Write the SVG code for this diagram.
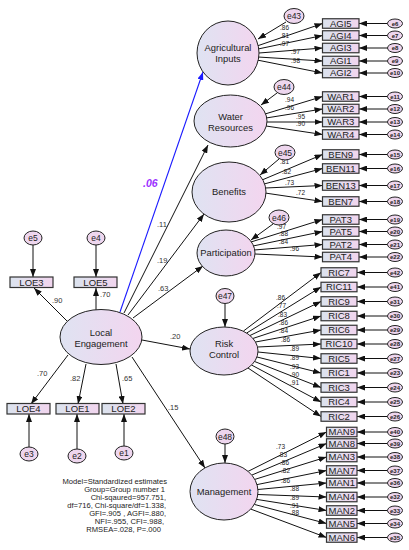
<svg xmlns="http://www.w3.org/2000/svg" width="409" height="550" viewBox="0 0 409 550">
<defs>
<linearGradient id="gl" x1="0" y1="0" x2="1" y2="0"><stop offset="0" stop-color="#dfe3f2"/><stop offset="1" stop-color="#f3d5ef"/></linearGradient>
<linearGradient id="gb" x1="0" y1="0" x2="1" y2="0"><stop offset="0" stop-color="#dbe3ee"/><stop offset="1" stop-color="#f1d5ee"/></linearGradient>
<marker id="ah" viewBox="0 0 10 10" refX="10" refY="5" markerWidth="8" markerHeight="6" markerUnits="userSpaceOnUse" orient="auto" preserveAspectRatio="none"><path d="M0,0 L10,5 L0,10 z" fill="#111"/></marker>
<marker id="ahb" viewBox="0 0 10 10" refX="10" refY="5" markerWidth="8" markerHeight="6" markerUnits="userSpaceOnUse" orient="auto" preserveAspectRatio="none"><path d="M0,0 L10,5 L0,10 z" fill="#1a1aff"/></marker>
<style>
text{font-family:"Liberation Sans",Arial,sans-serif;fill:#222}
.lat{fill:url(#gl);stroke:#222;stroke-width:1}
.box{fill:url(#gb);stroke:#333;stroke-width:1.2}
.err{fill:#eed6ee;stroke:#222;stroke-width:1}
.ln{stroke:#111;stroke-width:1;fill:none;marker-end:url(#ah)}
.blue{stroke:#1a1aff;stroke-width:1.1;fill:none;marker-end:url(#ahb)}
.lt{font-size:9.4px;text-anchor:middle}
.bt{font-size:9.5px;text-anchor:middle}
.et{font-size:8.5px;text-anchor:middle}
.se{font-size:6px;text-anchor:middle;font-weight:bold}
.ld{font-size:6.5px;fill:#444}
.sl{font-size:7.5px;fill:#333}
.fit{font-size:7.6px;text-anchor:end}
</style>
</defs>
<rect width="409" height="550" fill="#fff"/>

<g id="connectors">
<line class="blue" x1="120" y1="312" x2="203" y2="72"/>
<line class="ln" x1="124" y1="313" x2="208" y2="145"/>
<line class="ln" x1="128" y1="315" x2="204" y2="214"/>
<line class="ln" x1="133" y1="318" x2="203" y2="266"/>
<line class="ln" x1="142" y1="340" x2="190" y2="349"/>
<line class="ln" x1="132" y1="357" x2="205" y2="468"/>
<line class="ln" x1="67" y1="321" x2="34" y2="288"/>
<line class="ln" x1="96" y1="310" x2="96" y2="288"/>
<line class="ln" x1="68" y1="355" x2="31" y2="404"/>
<line class="ln" x1="86" y1="364" x2="78" y2="404"/>
<line class="ln" x1="116" y1="364" x2="123" y2="404"/>
<line class="ln" x1="33" y1="245" x2="33" y2="277"/>
<line class="ln" x1="96" y1="245" x2="96" y2="277"/>
<line class="ln" x1="29" y1="447" x2="29" y2="414"/>
<line class="ln" x1="77" y1="449" x2="77" y2="414"/>
<line class="ln" x1="124" y1="446" x2="124" y2="414"/>
<line class="ln" x1="286" y1="22" x2="258" y2="39"/>
<line class="ln" x1="277" y1="93" x2="261" y2="105"/>
<line class="ln" x1="279" y1="159" x2="260" y2="175"/>
<line class="ln" x1="273" y1="224" x2="251" y2="240"/>
<line class="ln" x1="225" y1="303" x2="225" y2="327"/>
<line class="ln" x1="225" y1="444" x2="225" y2="463"/>
<line class="ln" x1="257" y1="46" x2="322.5" y2="23.5"/>
<line class="ln" x1="258" y1="49" x2="322.5" y2="35.5"/>
<line class="ln" x1="259" y1="53" x2="322.5" y2="48"/>
<line class="ln" x1="258" y1="57" x2="322.5" y2="61"/>
<line class="ln" x1="257" y1="60" x2="322.5" y2="73"/>
<line class="ln" x1="265" y1="114" x2="322.5" y2="96.5"/>
<line class="ln" x1="266" y1="118" x2="322.5" y2="109"/>
<line class="ln" x1="267" y1="122" x2="322.5" y2="122"/>
<line class="ln" x1="266" y1="126" x2="322.5" y2="134.5"/>
<line class="ln" x1="262" y1="180" x2="322.5" y2="154.5"/>
<line class="ln" x1="264" y1="184" x2="322.5" y2="168.5"/>
<line class="ln" x1="265" y1="188" x2="322.5" y2="185.5"/>
<line class="ln" x1="265" y1="193" x2="322.5" y2="201.5"/>
<line class="ln" x1="251" y1="242" x2="322.5" y2="219.5"/>
<line class="ln" x1="253" y1="246" x2="322.5" y2="231.5"/>
<line class="ln" x1="254" y1="250" x2="322.5" y2="244.5"/>
<line class="ln" x1="255" y1="254" x2="322.5" y2="257"/>
<line class="ln" x1="243.5" y1="331" x2="321" y2="272.5"/>
<line class="ln" x1="246.7" y1="333" x2="321" y2="287"/>
<line class="ln" x1="250" y1="335.5" x2="321" y2="301.5"/>
<line class="ln" x1="252.8" y1="338.5" x2="321" y2="316"/>
<line class="ln" x1="255.5" y1="342" x2="321" y2="330"/>
<line class="ln" x1="257.5" y1="347" x2="321" y2="344"/>
<line class="ln" x1="258" y1="352" x2="321" y2="358.5"/>
<line class="ln" x1="257" y1="357" x2="321" y2="373"/>
<line class="ln" x1="254.6" y1="361.5" x2="321" y2="387.5"/>
<line class="ln" x1="251.5" y1="365" x2="321" y2="402"/>
<line class="ln" x1="248" y1="368" x2="321" y2="416.5"/>
<line class="ln" x1="248" y1="471.4" x2="326.5" y2="432"/>
<line class="ln" x1="251.8" y1="475.1" x2="326.5" y2="443.5"/>
<line class="ln" x1="254.8" y1="479.4" x2="326.5" y2="457"/>
<line class="ln" x1="257" y1="484.6" x2="326.5" y2="470.5"/>
<line class="ln" x1="257.9" y1="489.5" x2="326.5" y2="483"/>
<line class="ln" x1="257.8" y1="494.5" x2="326.5" y2="497"/>
<line class="ln" x1="256.7" y1="499.4" x2="326.5" y2="510.5"/>
<line class="ln" x1="254.3" y1="504.4" x2="326.5" y2="523.5"/>
<line class="ln" x1="250.8" y1="509.1" x2="326.5" y2="537.5"/>
<g>
<line class="ln" x1="387.5" y1="23.5" x2="359" y2="23.5"/>
<line class="ln" x1="387.5" y1="35.5" x2="359" y2="35.5"/>
<line class="ln" x1="387.5" y1="48" x2="359" y2="48"/>
<line class="ln" x1="387.5" y1="61" x2="359" y2="61"/>
<line class="ln" x1="387.5" y1="73" x2="359" y2="73"/>
<line class="ln" x1="387.5" y1="96.5" x2="359" y2="96.5"/>
<line class="ln" x1="387.5" y1="109" x2="359" y2="109"/>
<line class="ln" x1="387.5" y1="122" x2="359" y2="122"/>
<line class="ln" x1="387.5" y1="134.5" x2="359" y2="134.5"/>
<line class="ln" x1="387.5" y1="154.5" x2="359" y2="154.5"/>
<line class="ln" x1="387.5" y1="168.5" x2="359" y2="168.5"/>
<line class="ln" x1="387.5" y1="185.5" x2="359" y2="185.5"/>
<line class="ln" x1="387.5" y1="201.5" x2="359" y2="201.5"/>
<line class="ln" x1="387.5" y1="219.5" x2="359" y2="219.5"/>
<line class="ln" x1="387.5" y1="231.5" x2="359" y2="231.5"/>
<line class="ln" x1="387.5" y1="244.5" x2="359" y2="244.5"/>
<line class="ln" x1="387.5" y1="257" x2="359" y2="257"/>
<line class="ln" x1="387.5" y1="272.5" x2="357" y2="272.5"/>
<line class="ln" x1="387.5" y1="287" x2="357" y2="287"/>
<line class="ln" x1="387.5" y1="301.5" x2="357" y2="301.5"/>
<line class="ln" x1="387.5" y1="316" x2="357" y2="316"/>
<line class="ln" x1="387.5" y1="330" x2="357" y2="330"/>
<line class="ln" x1="387.5" y1="344" x2="357" y2="344"/>
<line class="ln" x1="387.5" y1="358.5" x2="357" y2="358.5"/>
<line class="ln" x1="387.5" y1="373" x2="357" y2="373"/>
<line class="ln" x1="387.5" y1="387.5" x2="357" y2="387.5"/>
<line class="ln" x1="387.5" y1="402" x2="357" y2="402"/>
<line class="ln" x1="387.5" y1="416.5" x2="357" y2="416.5"/>
<line class="ln" x1="387.5" y1="432" x2="357" y2="432"/>
<line class="ln" x1="387.5" y1="443.5" x2="357" y2="443.5"/>
<line class="ln" x1="387.5" y1="457" x2="357" y2="457"/>
<line class="ln" x1="387.5" y1="470.5" x2="357" y2="470.5"/>
<line class="ln" x1="387.5" y1="483" x2="357" y2="483"/>
<line class="ln" x1="387.5" y1="497" x2="357" y2="497"/>
<line class="ln" x1="387.5" y1="510.5" x2="357" y2="510.5"/>
<line class="ln" x1="387.5" y1="523.5" x2="357" y2="523.5"/>
<line class="ln" x1="387.5" y1="537.5" x2="357" y2="537.5"/>
</g>
<text x="143" y="187" style="font-size:10.5px;font-weight:bold;font-style:italic;fill:#9b30ff">.06</text>
<text class="sl" x="157" y="227">.11</text>
<text class="sl" x="157" y="263">.19</text>
<text class="sl" x="158" y="291">.63</text>
<text class="sl" x="170" y="339">.20</text>
<text class="sl" x="168" y="410">.15</text>
<text class="sl" x="52" y="303">.90</text>
<text class="sl" x="100" y="297">.70</text>
<text class="sl" x="37" y="376">.70</text>
<text class="sl" x="70" y="381">.82</text>
<text class="sl" x="122" y="381">.65</text>
<g class="ld">
<text x="280" y="30">.86</text><text x="280" y="38">.81</text><text x="280" y="46">.97</text><text x="291" y="54">.97</text><text x="291" y="63">.98</text>
<text x="285" y="102">.94</text><text x="285" y="110">.96</text><text x="296" y="118.5">.95</text><text x="296" y="126">.90</text>
<text x="280" y="164">.81</text><text x="282" y="174">.82</text><text x="285" y="185">.73</text><text x="296" y="195">.72</text>
<text x="277" y="229">.97</text><text x="279" y="236">.88</text><text x="279" y="244">.84</text><text x="290" y="251">.96</text>
<text x="276" y="300">.86</text><text x="277" y="307.5">.77</text><text x="278" y="316.5">.83</text><text x="279" y="325">.86</text><text x="279" y="333">.84</text><text x="281" y="342">.86</text><text x="290" y="351">.89</text><text x="290" y="360">.89</text><text x="290" y="369">.93</text><text x="290" y="377">.90</text><text x="290" y="385">.91</text>
<text x="276" y="449">.73</text><text x="278" y="456.5">.83</text><text x="280" y="465">.86</text><text x="281" y="473">.82</text><text x="281" y="482.5">.86</text><text x="290" y="491">.88</text><text x="290" y="500">.89</text><text x="290" y="507.5">.91</text><text x="290" y="515">.88</text>
</g>
</g>

<g id="LocalEngagement"><ellipse class="lat" cx="101" cy="337" rx="41" ry="27.5"/><text class="lt" x="101" y="336">Local</text><text class="lt" x="101" y="347">Engagement</text></g>
<g id="AgriculturalInputs"><ellipse class="lat" cx="228" cy="53" rx="31" ry="32"/><text class="lt" x="228" y="51">Agricultural</text><text class="lt" x="228" y="62">Inputs</text></g>
<g id="WaterResources"><ellipse class="lat" cx="230.5" cy="121" rx="36.5" ry="26"/><text class="lt" x="230.5" y="120">Water</text><text class="lt" x="230.5" y="131">Resources</text></g>
<g id="Benefits"><ellipse class="lat" cx="229" cy="192" rx="37" ry="30"/><text class="lt" x="229" y="195">Benefits</text></g>
<g id="Participation"><ellipse class="lat" cx="226" cy="253" rx="29" ry="23"/><text class="lt" x="226" y="256">Participation</text></g>
<g id="RiskControl"><ellipse class="lat" cx="224" cy="351" rx="34" ry="24"/><text class="lt" x="224" y="347">Risk</text><text class="lt" x="224" y="358">Control</text></g>
<g id="Management"><ellipse class="lat" cx="224" cy="491.5" rx="34" ry="28.5"/><text class="lt" x="224" y="494.5">Management</text></g>

<g id="e43"><ellipse class="err" cx="294" cy="16" rx="10" ry="7.5"/><text class="et" x="294" y="19">e43</text></g>
<g id="e44"><ellipse class="err" cx="284" cy="87" rx="10" ry="7.5"/><text class="et" x="284" y="90">e44</text></g>
<g id="e45"><ellipse class="err" cx="285" cy="152.5" rx="10" ry="7.5"/><text class="et" x="285" y="155.5">e45</text></g>
<g id="e46"><ellipse class="err" cx="279" cy="217.5" rx="10" ry="7.5"/><text class="et" x="279" y="220.5">e46</text></g>
<g id="e47"><ellipse class="err" cx="225" cy="296" rx="9" ry="7.5"/><text class="et" x="225" y="299">e47</text></g>
<g id="e48"><ellipse class="err" cx="225" cy="436.5" rx="9" ry="7.5"/><text class="et" x="225" y="439.5">e48</text></g>

<g id="LOE3"><rect class="box" x="10" y="277" width="43" height="10.5"/><text class="bt" x="31.5" y="285.7">LOE3</text></g>
<g id="LOE5"><rect class="box" x="74" y="277" width="43" height="10.5"/><text class="bt" x="95.5" y="285.7">LOE5</text></g>
<g id="LOE4"><rect class="box" x="7" y="403.5" width="43" height="10.5"/><text class="bt" x="28.5" y="412.2">LOE4</text></g>
<g id="LOE1"><rect class="box" x="56" y="403.5" width="43" height="10.5"/><text class="bt" x="77.5" y="412.2">LOE1</text></g>
<g id="LOE2"><rect class="box" x="102" y="403.5" width="43" height="10.5"/><text class="bt" x="123.5" y="412.2">LOE2</text></g>
<g id="e5"><ellipse class="err" cx="33" cy="238" rx="9" ry="7"/><text class="et" x="33" y="241">e5</text></g>
<g id="e4"><ellipse class="err" cx="96" cy="238" rx="9" ry="7"/><text class="et" x="96" y="241">e4</text></g>
<g id="e3"><ellipse class="err" cx="29" cy="454" rx="9" ry="7"/><text class="et" x="29" y="457">e3</text></g>
<g id="e2"><ellipse class="err" cx="77" cy="456" rx="9" ry="7"/><text class="et" x="77" y="459">e2</text></g>
<g id="e1"><ellipse class="err" cx="124" cy="453" rx="9" ry="7"/><text class="et" x="124" y="456">e1</text></g>

<g id="AGI5"><rect class="box" x="322.5" y="18.75" width="36.5" height="9.5"/><text class="bt" x="340.75" y="26.9">AGI5</text></g>
<g id="AGI4"><rect class="box" x="322.5" y="30.75" width="36.5" height="9.5"/><text class="bt" x="340.75" y="38.9">AGI4</text></g>
<g id="AGI3"><rect class="box" x="322.5" y="43.25" width="36.5" height="9.5"/><text class="bt" x="340.75" y="51.4">AGI3</text></g>
<g id="AGI1"><rect class="box" x="322.5" y="56.25" width="36.5" height="9.5"/><text class="bt" x="340.75" y="64.4">AGI1</text></g>
<g id="AGI2"><rect class="box" x="322.5" y="68.25" width="36.5" height="9.5"/><text class="bt" x="340.75" y="76.4">AGI2</text></g>
<g id="WAR1"><rect class="box" x="322.5" y="91.75" width="36.5" height="9.5"/><text class="bt" x="340.75" y="99.9">WAR1</text></g>
<g id="WAR2"><rect class="box" x="322.5" y="104.25" width="36.5" height="9.5"/><text class="bt" x="340.75" y="112.4">WAR2</text></g>
<g id="WAR3"><rect class="box" x="322.5" y="117.25" width="36.5" height="9.5"/><text class="bt" x="340.75" y="125.4">WAR3</text></g>
<g id="WAR4"><rect class="box" x="322.5" y="129.75" width="36.5" height="9.5"/><text class="bt" x="340.75" y="137.9">WAR4</text></g>
<g id="BEN9"><rect class="box" x="322.5" y="149.75" width="36.5" height="9.5"/><text class="bt" x="340.75" y="157.9">BEN9</text></g>
<g id="BEN11"><rect class="box" x="322.5" y="163.75" width="36.5" height="9.5"/><text class="bt" x="340.75" y="171.9">BEN11</text></g>
<g id="BEN13"><rect class="box" x="322.5" y="180.75" width="36.5" height="9.5"/><text class="bt" x="340.75" y="188.9">BEN13</text></g>
<g id="BEN7"><rect class="box" x="322.5" y="196.75" width="36.5" height="9.5"/><text class="bt" x="340.75" y="204.9">BEN7</text></g>
<g id="PAT3"><rect class="box" x="322.5" y="214.75" width="36.5" height="9.5"/><text class="bt" x="340.75" y="222.9">PAT3</text></g>
<g id="PAT5"><rect class="box" x="322.5" y="226.75" width="36.5" height="9.5"/><text class="bt" x="340.75" y="234.9">PAT5</text></g>
<g id="PAT2"><rect class="box" x="322.5" y="239.75" width="36.5" height="9.5"/><text class="bt" x="340.75" y="247.9">PAT2</text></g>
<g id="PAT4"><rect class="box" x="322.5" y="252.25" width="36.5" height="9.5"/><text class="bt" x="340.75" y="260.4">PAT4</text></g>
<g id="RIC7"><rect class="box" x="321" y="267.75" width="36" height="9.5"/><text class="bt" x="339" y="275.9">RIC7</text></g>
<g id="RIC11"><rect class="box" x="321" y="282.25" width="36" height="9.5"/><text class="bt" x="339" y="290.4">RIC11</text></g>
<g id="RIC9"><rect class="box" x="321" y="296.75" width="36" height="9.5"/><text class="bt" x="339" y="304.9">RIC9</text></g>
<g id="RIC8"><rect class="box" x="321" y="311.25" width="36" height="9.5"/><text class="bt" x="339" y="319.4">RIC8</text></g>
<g id="RIC6"><rect class="box" x="321" y="325.25" width="36" height="9.5"/><text class="bt" x="339" y="333.4">RIC6</text></g>
<g id="RIC10"><rect class="box" x="321" y="339.25" width="36" height="9.5"/><text class="bt" x="339" y="347.4">RIC10</text></g>
<g id="RIC5"><rect class="box" x="321" y="353.75" width="36" height="9.5"/><text class="bt" x="339" y="361.9">RIC5</text></g>
<g id="RIC1"><rect class="box" x="321" y="368.25" width="36" height="9.5"/><text class="bt" x="339" y="376.4">RIC1</text></g>
<g id="RIC3"><rect class="box" x="321" y="382.75" width="36" height="9.5"/><text class="bt" x="339" y="390.9">RIC3</text></g>
<g id="RIC4"><rect class="box" x="321" y="397.25" width="36" height="9.5"/><text class="bt" x="339" y="405.4">RIC4</text></g>
<g id="RIC2"><rect class="box" x="321" y="411.75" width="36" height="9.5"/><text class="bt" x="339" y="419.9">RIC2</text></g>
<g id="MAN9"><rect class="box" x="326.5" y="427.25" width="30.5" height="9.5"/><text class="bt" x="341.75" y="435.4">MAN9</text></g>
<g id="MAN8"><rect class="box" x="326.5" y="438.75" width="30.5" height="9.5"/><text class="bt" x="341.75" y="446.9">MAN8</text></g>
<g id="MAN3"><rect class="box" x="326.5" y="452.25" width="30.5" height="9.5"/><text class="bt" x="341.75" y="460.4">MAN3</text></g>
<g id="MAN7"><rect class="box" x="326.5" y="465.75" width="30.5" height="9.5"/><text class="bt" x="341.75" y="473.9">MAN7</text></g>
<g id="MAN1"><rect class="box" x="326.5" y="478.25" width="30.5" height="9.5"/><text class="bt" x="341.75" y="486.4">MAN1</text></g>
<g id="MAN4"><rect class="box" x="326.5" y="492.25" width="30.5" height="9.5"/><text class="bt" x="341.75" y="500.4">MAN4</text></g>
<g id="MAN2"><rect class="box" x="326.5" y="505.75" width="30.5" height="9.5"/><text class="bt" x="341.75" y="513.9">MAN2</text></g>
<g id="MAN5"><rect class="box" x="326.5" y="518.75" width="30.5" height="9.5"/><text class="bt" x="341.75" y="526.9">MAN5</text></g>
<g id="MAN6"><rect class="box" x="326.5" y="532.75" width="30.5" height="9.5"/><text class="bt" x="341.75" y="540.9">MAN6</text></g>

<g id="indicator-errors">
<g id="e6"><ellipse class="err" cx="395" cy="23.5" rx="7.5" ry="4.5"/><text class="se" x="395" y="25.6">e6</text></g>
<g id="e7"><ellipse class="err" cx="395" cy="35.5" rx="7.5" ry="4.5"/><text class="se" x="395" y="37.6">e7</text></g>
<g id="e8"><ellipse class="err" cx="395" cy="48" rx="7.5" ry="4.5"/><text class="se" x="395" y="50.1">e8</text></g>
<g id="e9"><ellipse class="err" cx="395" cy="61" rx="7.5" ry="4.5"/><text class="se" x="395" y="63.1">e9</text></g>
<g id="e10"><ellipse class="err" cx="395" cy="73" rx="7.5" ry="4.5"/><text class="se" x="395" y="75.1">e10</text></g>
<g id="e11"><ellipse class="err" cx="395" cy="96.5" rx="7.5" ry="4.5"/><text class="se" x="395" y="98.6">e11</text></g>
<g id="e12"><ellipse class="err" cx="395" cy="109" rx="7.5" ry="4.5"/><text class="se" x="395" y="111.1">e12</text></g>
<g id="e13"><ellipse class="err" cx="395" cy="122" rx="7.5" ry="4.5"/><text class="se" x="395" y="124.1">e13</text></g>
<g id="e14"><ellipse class="err" cx="395" cy="134.5" rx="7.5" ry="4.5"/><text class="se" x="395" y="136.6">e14</text></g>
<g id="e15"><ellipse class="err" cx="395" cy="154.5" rx="7.5" ry="4.5"/><text class="se" x="395" y="156.6">e15</text></g>
<g id="e16"><ellipse class="err" cx="395" cy="168.5" rx="7.5" ry="4.5"/><text class="se" x="395" y="170.6">e16</text></g>
<g id="e17"><ellipse class="err" cx="395" cy="185.5" rx="7.5" ry="4.5"/><text class="se" x="395" y="187.6">e17</text></g>
<g id="e18"><ellipse class="err" cx="395" cy="201.5" rx="7.5" ry="4.5"/><text class="se" x="395" y="203.6">e18</text></g>
<g id="e19"><ellipse class="err" cx="395" cy="219.5" rx="7.5" ry="4.5"/><text class="se" x="395" y="221.6">e19</text></g>
<g id="e20"><ellipse class="err" cx="395" cy="231.5" rx="7.5" ry="4.5"/><text class="se" x="395" y="233.6">e20</text></g>
<g id="e21"><ellipse class="err" cx="395" cy="244.5" rx="7.5" ry="4.5"/><text class="se" x="395" y="246.6">e21</text></g>
<g id="e22"><ellipse class="err" cx="395" cy="257" rx="7.5" ry="4.5"/><text class="se" x="395" y="259.1">e22</text></g>
<g id="e42"><ellipse class="err" cx="395" cy="272.5" rx="7.5" ry="4.5"/><text class="se" x="395" y="274.6">e42</text></g>
<g id="e41"><ellipse class="err" cx="395" cy="287" rx="7.5" ry="4.5"/><text class="se" x="395" y="289.1">e41</text></g>
<g id="e31"><ellipse class="err" cx="395" cy="301.5" rx="7.5" ry="4.5"/><text class="se" x="395" y="303.6">e31</text></g>
<g id="e30"><ellipse class="err" cx="395" cy="316" rx="7.5" ry="4.5"/><text class="se" x="395" y="318.1">e30</text></g>
<g id="e29"><ellipse class="err" cx="395" cy="330" rx="7.5" ry="4.5"/><text class="se" x="395" y="332.1">e29</text></g>
<g id="e28"><ellipse class="err" cx="395" cy="344" rx="7.5" ry="4.5"/><text class="se" x="395" y="346.1">e28</text></g>
<g id="e27"><ellipse class="err" cx="395" cy="358.5" rx="7.5" ry="4.5"/><text class="se" x="395" y="360.6">e27</text></g>
<g id="e23"><ellipse class="err" cx="395" cy="373" rx="7.5" ry="4.5"/><text class="se" x="395" y="375.1">e23</text></g>
<g id="e24"><ellipse class="err" cx="395" cy="387.5" rx="7.5" ry="4.5"/><text class="se" x="395" y="389.6">e24</text></g>
<g id="e25"><ellipse class="err" cx="395" cy="402" rx="7.5" ry="4.5"/><text class="se" x="395" y="404.1">e25</text></g>
<g id="e26"><ellipse class="err" cx="395" cy="416.5" rx="7.5" ry="4.5"/><text class="se" x="395" y="418.6">e26</text></g>
<g id="e40"><ellipse class="err" cx="395" cy="432" rx="7.5" ry="4.5"/><text class="se" x="395" y="434.1">e40</text></g>
<g id="e39"><ellipse class="err" cx="395" cy="443.5" rx="7.5" ry="4.5"/><text class="se" x="395" y="445.6">e39</text></g>
<g id="e38"><ellipse class="err" cx="395" cy="457" rx="7.5" ry="4.5"/><text class="se" x="395" y="459.1">e38</text></g>
<g id="e37"><ellipse class="err" cx="395" cy="470.5" rx="7.5" ry="4.5"/><text class="se" x="395" y="472.6">e37</text></g>
<g id="e36"><ellipse class="err" cx="395" cy="483" rx="7.5" ry="4.5"/><text class="se" x="395" y="485.1">e36</text></g>
<g id="e32"><ellipse class="err" cx="395" cy="497" rx="7.5" ry="4.5"/><text class="se" x="395" y="499.1">e32</text></g>
<g id="e33"><ellipse class="err" cx="395" cy="510.5" rx="7.5" ry="4.5"/><text class="se" x="395" y="512.6">e33</text></g>
<g id="e34"><ellipse class="err" cx="395" cy="523.5" rx="7.5" ry="4.5"/><text class="se" x="395" y="525.6">e34</text></g>
<g id="e35"><ellipse class="err" cx="395" cy="537.5" rx="7.5" ry="4.5"/><text class="se" x="395" y="539.6">e35</text></g>
</g>

<g id="fit-notes">
<text class="fit" x="167" y="484">Model=Standardized estimates</text>
<text class="fit" x="165" y="492">Group=Group number 1</text>
<text class="fit" x="166" y="500">Chi-sqaured=957.751,</text>
<text class="fit" x="166" y="508">df=716, Chi-square/df=1.338,</text>
<text class="fit" x="166" y="516">GFI=.905 , AGFI=.880,</text>
<text class="fit" x="164" y="524">NFI=.955, CFI=.988,</text>
<text class="fit" x="161" y="532">RMSEA=.028, P=.000</text>
</g>
</svg>
